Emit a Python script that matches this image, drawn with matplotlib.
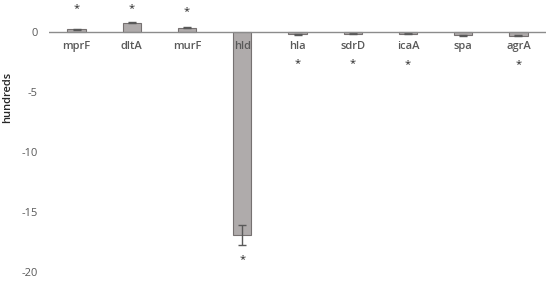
import matplotlib
matplotlib.use("Agg")
import matplotlib.pyplot as plt
import numpy as np

genes = ["mprF", "dltA", "murF", "hld", "hla", "sdrD", "icaA", "spa", "agrA"]
values = [0.22, 0.78, 0.35, -16.9, -0.2, -0.15, -0.15, -0.25, -0.3]
errors = [0.05, 0.06, 0.05, 0.85, 0.04, 0.04, 0.04, 0.04, 0.04]
stars = ["*", "*", "*", "*", "*", "*", "*", "", "*"]
star_y = [1.95, 1.95, 1.7, -18.95, -2.6, -2.6, -2.75, -2.6, -2.7]
yticks = [0, -5, -10, -15, -20]

plt.rcParams['font.family'] = ['Open Sans', 'DejaVu Sans']
fig = plt.figure(figsize=(5.5, 2.83), dpi=100)
ax = fig.add_axes([49/550, 11/283, (546-49)/550, 272/283])

x = np.arange(len(genes))
ax.bar(x, values, width=0.33, color="#AFABAB", edgecolor="#767171", linewidth=0.8,
       yerr=errors, error_kw=dict(ecolor="#595959", elinewidth=1.0, capsize=3, capthick=1.0))
ax.axhline(0, color="#8C8C8C", linewidth=1.0, zorder=3)

for xi, s, sy in zip(x, stars, star_y):
    if s:
        ax.text(xi, sy, s, ha="center", va="center", fontsize=8, color="#262626")

for xi, g in zip(x, genes):
    ax.text(xi, -0.75, g, ha="center", va="top", fontsize=8, color="#595959", fontweight="semibold")

ax.set_xlim(-0.5, len(genes) - 0.5)
ax.set_ylim(-20, 2.67)
ax.set_xticks([])
ax.set_yticks(yticks)
ax.set_yticklabels([str(t) for t in yticks], fontsize=8, color="#595959")
ax.tick_params(axis="y", length=0, pad=8)
for sp in ax.spines.values():
    sp.set_visible(False)
ax.set_ylabel("hundreds", fontsize=8, color="#262626", fontweight="semibold")
ax.yaxis.set_label_coords(-0.072, 0.643)

fig.savefig("out.png", dpi=100)
